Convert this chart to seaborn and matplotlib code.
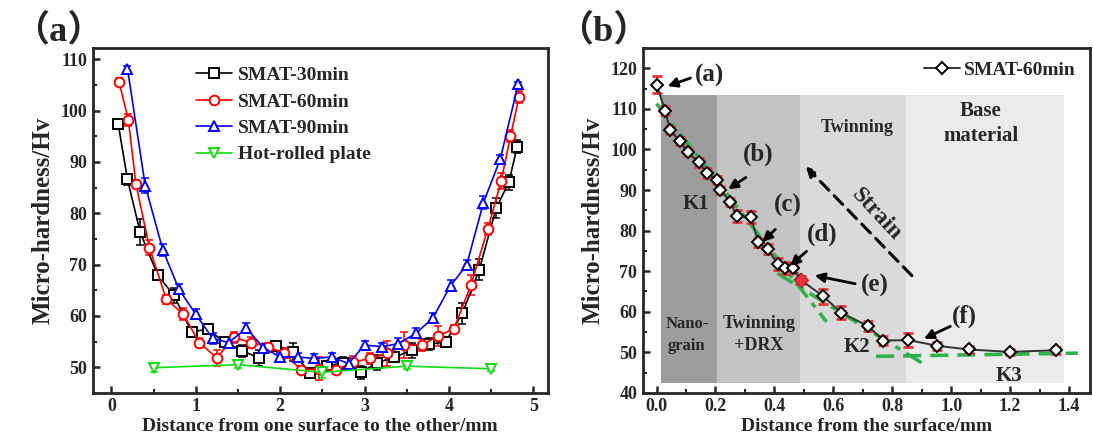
import numpy as np
import pandas as pd
import matplotlib
matplotlib.use("Agg")
import matplotlib.pyplot as plt
from matplotlib.ticker import MultipleLocator
import seaborn as sns

# ---------------- panel (a) data ----------------
x30 = [0.08, 0.19, 0.34, 0.55, 0.74, 0.95, 1.14, 1.34, 1.55, 1.75, 1.95, 2.15, 2.35,
       2.55, 2.75, 2.96, 3.15, 3.35, 3.56, 3.76, 3.96, 4.16, 4.36, 4.56, 4.71, 4.81]
y30 = [97.4, 86.6, 76.3, 67.9, 64.0, 56.9, 57.4, 54.9, 53.2, 51.8, 54.2, 53.0, 48.9,
       50.3, 50.8, 49.0, 50.9, 51.9, 53.3, 54.5, 54.9, 60.5, 69.0, 81.0, 86.0, 93.0]
e30 = [1.0, 1.0, 2.5, 1.0, 1.5, 1.0, 1.0, 1.0, 1.2, 1.5, 0.8, 1.8, 0.8,
       1.0, 1.2, 1.3, 1.5, 0.8, 1.5, 1.2, 1.0, 2.0, 2.0, 2.0, 1.5, 1.2]

x60 = [0.09, 0.20, 0.29, 0.45, 0.65, 0.85, 1.04, 1.25, 1.45, 1.66, 1.85, 2.05, 2.25, 2.46,
       2.66, 2.86, 3.07, 3.27, 3.47, 3.68, 3.87, 4.06, 4.26, 4.46, 4.62, 4.73, 4.83]
y60 = [105.6, 98.2, 85.7, 73.3, 63.2, 60.4, 54.8, 51.8, 55.8, 54.8, 54.0, 52.7, 49.4, 49.7,
       49.4, 51.0, 51.7, 52.7, 54.3, 54.3, 56.1, 57.5, 66.0, 76.9, 86.3, 95.0, 102.6]
e60 = [0.8, 1.2, 0.8, 1.5, 0.8, 1.2, 0.8, 1.5, 1.0, 1.0, 0.8, 1.0, 0.8, 2.2,
       0.8, 1.2, 1.0, 2.5, 2.5, 1.2, 2.0, 0.8, 2.0, 1.2, 1.5, 1.2, 1.2]

x90 = [0.19, 0.40, 0.61, 0.80, 1.00, 1.20, 1.39, 1.60, 1.80, 2.00, 2.21, 2.40,
       2.61, 2.81, 3.00, 3.21, 3.40, 3.61, 3.81, 4.02, 4.21, 4.41, 4.61, 4.82]
y90 = [108.2, 85.4, 72.8, 65.2, 60.3, 55.6, 54.8, 57.6, 53.8, 52.0, 52.0, 51.7,
       52.0, 50.7, 54.3, 54.0, 54.6, 56.6, 59.6, 65.9, 69.9, 82.1, 90.6, 105.1]
e90 = [0.5, 1.5, 1.2, 1.0, 1.0, 1.0, 0.8, 1.0, 0.8, 0.8, 0.8, 0.8,
       0.8, 1.0, 0.8, 0.8, 1.0, 1.0, 1.0, 1.0, 1.0, 1.2, 0.8, 0.5]

xhot = [0.5, 1.5, 2.5, 3.5, 4.5]
yhot = [49.9, 50.5, 49.0, 50.2, 49.7]
ehot = [0.8, 0.6, 1.2, 0.5, 0.5]

series_a = [
    ("SMAT-30min", x30, y30, e30, "black", "s"),
    ("SMAT-60min", x60, y60, e60, "red", "o"),
    ("SMAT-90min", x90, y90, e90, "blue", "^"),
    ("Hot-rolled plate", xhot, yhot, ehot, "#11dd11", "v"),
]

# ---------------- panel (b) data ----------------
xb = [0.0, 0.029, 0.046, 0.078, 0.106, 0.143, 0.171, 0.206, 0.217, 0.249, 0.274, 0.320, 0.345,
      0.377, 0.411, 0.437, 0.463, 0.49, 0.566, 0.626, 0.719, 0.770, 0.855, 0.953, 1.059, 1.198, 1.355]
yb = [116.0, 109.6, 104.8, 102.1, 99.3, 96.8, 94.2, 92.5, 90.0, 87.1, 83.6, 83.3, 77.1,
      75.4, 71.8, 70.7, 70.7, 67.8, 63.8, 59.8, 56.4, 52.9, 53.0, 51.6, 50.7, 50.1, 50.5]
eb = [2.0, 1.0, 1.0, 1.0, 1.0, 1.0, 1.2, 1.0, 1.0, 1.0, 1.5, 1.5, 1.2,
      1.2, 1.5, 1.5, 1.2, 1.0, 1.8, 1.5, 1.2, 1.0, 1.8, 1.0, 0.8, 0.8, 0.8]
highlight_x = [0.49]
highlight_y = [67.8]

zone_edges = [0.015, 0.205, 0.486, 0.847, 1.384]
zone_colors = ["#9d9d9d", "#c3c3c3", "#dadada", "#ebebeb"]
zone_low, zone_high = 42.5, 113.5

fit_k1_x, fit_k1_y = [0.0, 0.577], [111.3, 57.5]
fit_k2_x, fit_k2_y = [0.41, 0.92], [69.5, 46.5]
fit_k3_x, fit_k3_y = [0.745, 1.43], [49.0, 49.8]

# label, text x, text y, arrow tail x, tail y, arrow tip x, tip y
labels_b = [("(a)", 0.18, 118.2, 0.115, 117.6, 0.033, 115.5),
            ("(b)", 0.344, 98.8, 0.303, 93.1, 0.239, 90.0),
            ("(c)", 0.444, 86.2, 0.403, 80.3, 0.356, 77.0),
            ("(d)", 0.562, 79.1, 0.509, 74.9, 0.45, 71.1),
            ("(e)", 0.74, 66.5, 0.674, 66.9, 0.532, 69.0),
            ("(f)", 1.044, 58.9, 0.997, 56.4, 0.903, 53.2)]

sns.set_style("ticks")
plt.rcParams["font.family"] = ["Liberation Serif", "DejaVu Serif"]
plt.rcParams["font.weight"] = "bold"
plt.rcParams["axes.labelweight"] = "bold"
plt.rcParams["xtick.direction"] = "in"
plt.rcParams["ytick.direction"] = "in"

fig = plt.figure(figsize=(10.93, 4.37), dpi=100)
ax1 = fig.add_axes([0.085, 0.101, 0.416, 0.789])
ax2 = fig.add_axes([0.588, 0.101, 0.409, 0.789])

# ---------------- panel (a) ----------------
for name, xs, ys, es, col, mk in series_a:
    sns.lineplot(x=xs, y=ys, ax=ax1, color=col, marker=mk, markersize=7,
                 markerfacecolor="white", markeredgecolor=col, markeredgewidth=1.4,
                 linewidth=1.2, label=name, sort=False, zorder=3)
    ax1.errorbar(xs, ys, yerr=es, fmt="none", ecolor=col, elinewidth=1.1,
                 capsize=3, capthick=1.1, zorder=2)

ax1.set_xlim(-0.22, 5.17)
ax1.set_ylim(45, 112.2)
ax1.xaxis.set_major_locator(MultipleLocator(1))
ax1.xaxis.set_minor_locator(MultipleLocator(0.5))
ax1.yaxis.set_major_locator(MultipleLocator(10))
ax1.yaxis.set_minor_locator(MultipleLocator(5))
ax1.set_xlabel("Distance from one surface to the other/mm", fontsize=14, labelpad=2)
ax1.set_ylabel("Micro-hardness/Hv", fontsize=18, labelpad=4)
ax1.legend(loc="upper left", bbox_to_anchor=(0.2, 0.98), frameon=False,
           fontsize=14, handlelength=1.9, handletextpad=0.3, labelspacing=0.45,
           borderaxespad=0.2)

# ---------------- panel (b) ----------------
for i in range(len(zone_colors)):
    ax2.fill_between([zone_edges[i], zone_edges[i + 1]], zone_low, zone_high,
                     color=zone_colors[i], linewidth=0, zorder=0)

ax2.plot(fit_k1_x, fit_k1_y, color="#2fb24c", linewidth=2.6,
         dashes=(5, 2, 1.5, 2), zorder=2)
ax2.plot(fit_k2_x, fit_k2_y, color="#2fb24c", linewidth=2.6,
         dashes=(5, 2, 1.5, 2), zorder=2)
ax2.plot(fit_k3_x, fit_k3_y, color="#2fb24c", linewidth=2.6,
         dashes=(5, 2.5), zorder=2)

ax2.errorbar(xb, yb, yerr=eb, fmt="none", ecolor="#e8343a", elinewidth=1.4,
             capsize=3.5, capthick=2, zorder=3)
sns.lineplot(x=xb, y=yb, ax=ax2, color="#333333", marker="D", markersize=6.5,
             markerfacecolor="white", markeredgecolor="black", markeredgewidth=1.4,
             linewidth=1.4, label="SMAT-60min", sort=False, zorder=4)
sns.scatterplot(x=highlight_x, y=highlight_y, ax=ax2, marker="D", s=55,
                color="#e8343a", edgecolor="#b02020", zorder=5, legend=False)

ax2.set_xlim(-0.047, 1.47)
ax2.set_ylim(40, 125)
ax2.xaxis.set_major_locator(MultipleLocator(0.2))
ax2.xaxis.set_minor_locator(MultipleLocator(0.1))
ax2.yaxis.set_major_locator(MultipleLocator(10))
ax2.yaxis.set_minor_locator(MultipleLocator(5))
ax2.xaxis.set_major_formatter(matplotlib.ticker.FormatStrFormatter("%.1f"))
ax2.set_xlabel("Distance from the surface/mm", fontsize=14, labelpad=2)
ax2.set_ylabel("Micro-hardness/Hv", fontsize=18, labelpad=4)
ax2.legend(loc="upper right", frameon=False, fontsize=14, handlelength=1.9,
           handletextpad=0.2, borderaxespad=0.3)

txt = dict(fontweight="bold", ha="center", va="center", zorder=6)
ax2.text(0.103, 54.3, "Nano-\ngrain", fontsize=12, linespacing=1.5, **txt)
ax2.text(0.348, 54.3, "Twinning\n+DRX", fontsize=13, linespacing=1.4, **txt)
ax2.text(0.68, 105.5, "Twinning", fontsize=13, **txt)
ax2.text(1.10, 106.4, "Base\nmaterial", fontsize=15, linespacing=1.3, **txt)
ax2.text(0.133, 86.6, "K1", fontsize=15, **txt)
ax2.text(0.68, 51.3, "K2", fontsize=15, **txt)
ax2.text(1.197, 44.2, "K3", fontsize=15, **txt)
ax2.text(0.745, 84.0, "Strain", fontsize=17, rotation=-47, **txt)

ax2.annotate("", xy=(0.50, 96.3), xytext=(0.873, 68.4),
             arrowprops=dict(arrowstyle="-|>", color="black", lw=2.2,
                             linestyle=(0, (4, 2.5)), mutation_scale=14),
             zorder=6)

for lab, tx, ty, sx, sy, px, py in labels_b:
    ax2.text(tx, ty, lab, fontsize=18, fontweight="bold", ha="center",
             va="center", zorder=7)
    ax2.annotate("", xy=(px, py), xytext=(sx, sy), zorder=7,
                 arrowprops=dict(arrowstyle="-|>", color="black", lw=2,
                                 mutation_scale=14, shrinkA=0, shrinkB=1))

for ax in (ax1, ax2):
    for sp in ax.spines.values():
        sp.set_linewidth(2)
        sp.set_visible(True)
    ax.tick_params(which="major", length=5, width=1.8, labelsize=13, pad=4,
                   top=False, right=False)
    ax.tick_params(which="minor", length=3, width=1.5, top=False, right=False)
    for lab in ax.get_xticklabels() + ax.get_yticklabels():
        lab.set_fontweight("bold")

fig.text(0.012, 0.93, "（a）", fontsize=26, fontweight="bold", va="center",
         family=["Liberation Serif", "Noto Sans CJK SC"])
fig.text(0.51, 0.93, "（b）", fontsize=26, fontweight="bold", va="center",
         family=["Liberation Serif", "Noto Sans CJK SC"])

plt.savefig("out.png", dpi=100)
